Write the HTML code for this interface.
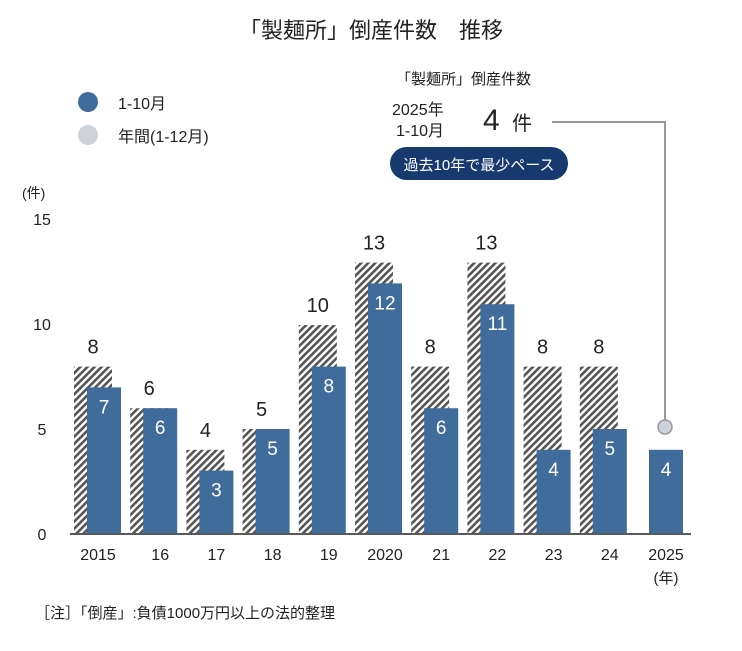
<!DOCTYPE html>
<html><head><meta charset="utf-8"><style>
body{margin:0;background:#fff}
svg{display:block;font-family:"Liberation Sans","Noto Sans CJK JP",sans-serif}
</style></head><body>
<svg width="742" height="651" viewBox="0 0 742 651" xmlns="http://www.w3.org/2000/svg">
<defs>
<pattern id="h" patternUnits="userSpaceOnUse" width="5" height="5" patternTransform="rotate(45)">
<rect width="5" height="5" fill="#fff"/><rect width="2.6" height="5" fill="#555"/>
</pattern>
</defs>
<text x="371" y="38" font-size="22" text-anchor="middle" fill="#222">「製麺所」倒産件数　推移</text>
<circle cx="88" cy="102" r="10" fill="#406c9b"/>
<text x="118" y="109" font-size="16" fill="#222">1-10月</text>
<circle cx="88" cy="135" r="10" fill="#cdd3da"/>
<text x="118" y="142" font-size="16" fill="#222">年間(1-12月)</text>
<text x="22" y="198" font-size="14" fill="#222">(件)</text>
<g font-size="16" fill="#222" text-anchor="middle">
<text x="42" y="225">15</text><text x="42" y="330">10</text><text x="42" y="435">5</text><text x="42" y="540">0</text>
</g>
<text x="396" y="84" font-size="15" fill="#222">「製麺所」倒産件数</text>
<text x="392" y="115" font-size="16" fill="#222">2025年</text>
<text x="396" y="136" font-size="16" fill="#222">1-10月</text>
<text x="483" y="130" font-size="30" fill="#222">4</text>
<text x="512" y="130" font-size="20" fill="#222">件</text>
<rect x="390" y="147" width="178" height="33" rx="16.5" fill="#173a6e"/>
<text x="479" y="170" font-size="15" fill="#fff" text-anchor="middle">過去10年で最少ペース</text>
<polyline points="552,122 665,122 665,420" fill="none" stroke="#999" stroke-width="2"/>
<circle cx="665" cy="427" r="7" fill="#cdd3da" stroke="#999" stroke-width="1.5"/>

<g fill="url(#h)">
<rect x="74" y="366.6" width="38" height="166.4"/>
<rect x="130.2" y="408.2" width="38" height="124.8"/>
<rect x="186.4" y="449.8" width="38" height="83.2"/>
<rect x="242.6" y="429" width="38" height="104"/>
<rect x="298.8" y="325" width="38" height="208"/>
<rect x="355" y="262.6" width="38" height="270.4"/>
<rect x="411.2" y="366.6" width="38" height="166.4"/>
<rect x="467.4" y="262.6" width="38" height="270.4"/>
<rect x="523.6" y="366.6" width="38" height="166.4"/>
<rect x="579.8" y="366.6" width="38" height="166.4"/>
</g>
<g font-size="20" fill="#222" text-anchor="middle">
<text x="93" y="353.6">8</text>
<text x="149.2" y="395.2">6</text>
<text x="205.4" y="436.8">4</text>
<text x="261.6" y="416">5</text>
<text x="317.8" y="312">10</text>
<text x="374" y="249.6">13</text>
<text x="430.2" y="353.6">8</text>
<text x="486.4" y="249.6">13</text>
<text x="542.6" y="353.6">8</text>
<text x="598.8" y="353.6">8</text>
</g>
<g fill="#406c9b">
<rect x="87" y="387.4" width="34" height="145.6"/>
<rect x="143.2" y="408.2" width="34" height="124.8"/>
<rect x="199.4" y="470.6" width="34" height="62.4"/>
<rect x="255.6" y="429" width="34" height="104"/>
<rect x="311.8" y="366.6" width="34" height="166.4"/>
<rect x="368" y="283.4" width="34" height="249.6"/>
<rect x="424.2" y="408.2" width="34" height="124.8"/>
<rect x="480.4" y="304.2" width="34" height="228.8"/>
<rect x="536.6" y="449.8" width="34" height="83.2"/>
<rect x="592.8" y="429" width="34" height="104"/>
<rect x="649" y="449.8" width="34" height="83.2"/>
</g>
<g font-size="19" fill="#fff" text-anchor="middle">
<text x="104" y="413.4">7</text>
<text x="160.2" y="434.2">6</text>
<text x="216.4" y="496.6">3</text>
<text x="272.6" y="455">5</text>
<text x="328.8" y="392.6">8</text>
<text x="385" y="309.4">12</text>
<text x="441.2" y="434.2">6</text>
<text x="497.4" y="330.2">11</text>
<text x="553.6" y="475.8">4</text>
<text x="609.8" y="455">5</text>
<text x="666" y="475.8">4</text>
</g>
<g font-size="16" fill="#222" text-anchor="middle">
<text x="98" y="560">2015</text>
<text x="160.2" y="560">16</text>
<text x="216.4" y="560">17</text>
<text x="272.6" y="560">18</text>
<text x="328.8" y="560">19</text>
<text x="385" y="560">2020</text>
<text x="441.2" y="560">21</text>
<text x="497.4" y="560">22</text>
<text x="553.6" y="560">23</text>
<text x="609.8" y="560">24</text>
<text x="666" y="560">2025</text>
</g>
<line x1="70" y1="534" x2="691" y2="534" stroke="#222" stroke-width="1.5"/>
<text x="35" y="618" font-size="15" fill="#222">［注］「倒産」:負債1000万円以上の法的整理</text>
<text x="666" y="583" font-size="15" fill="#222" text-anchor="middle">(年)</text>
</svg>
</body></html>
